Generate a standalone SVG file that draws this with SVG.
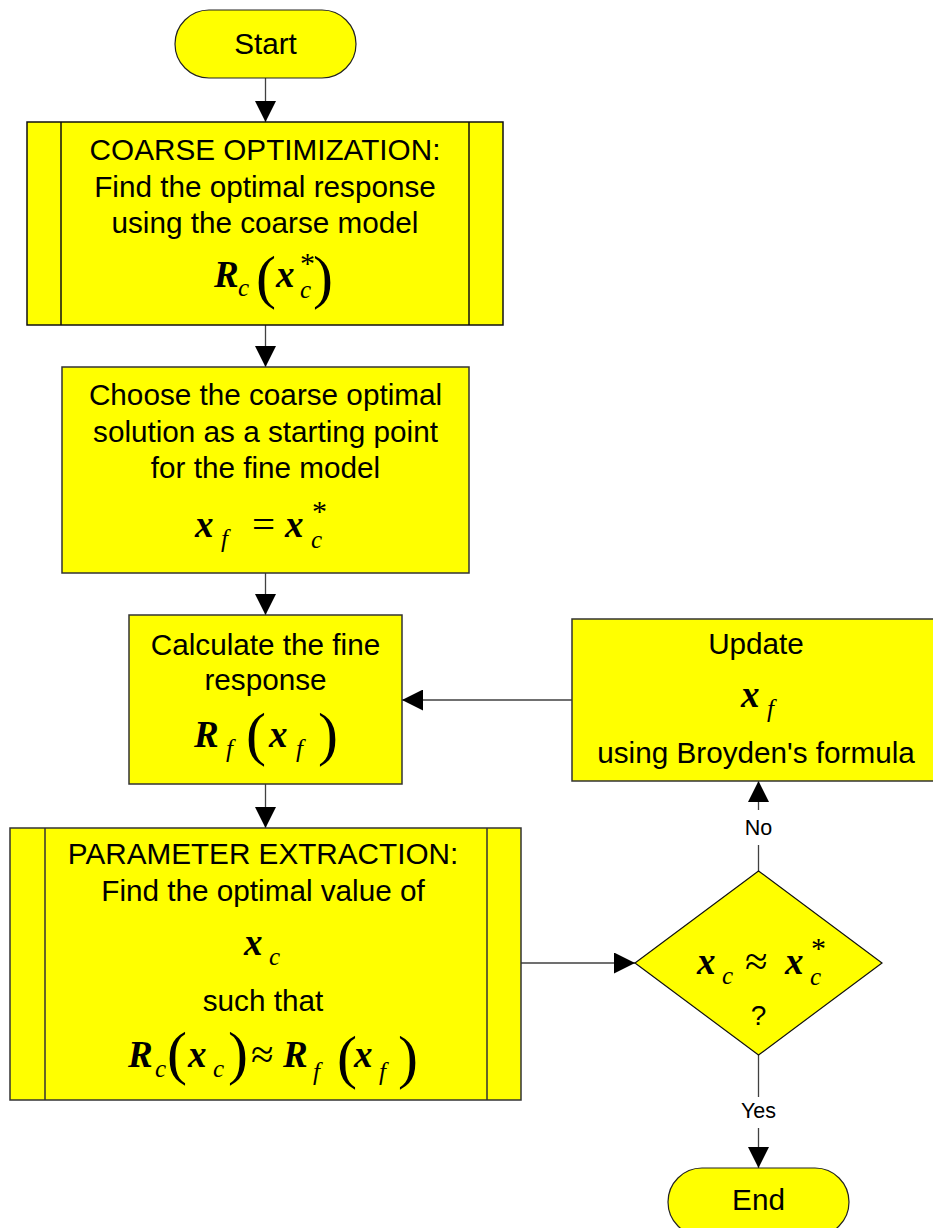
<svg xmlns="http://www.w3.org/2000/svg" width="933" height="1228" viewBox="0 0 933 1228">
<style>
.box{fill:#ffff00;stroke:#333333;stroke-width:1.5}
.term{fill:#ffff00;stroke:#222222;stroke-width:1.2}
.t{font-family:"Liberation Sans",Arial,sans-serif;font-size:29.7px;fill:#000;text-anchor:middle}
.lbl{font-family:"Liberation Sans",Arial,sans-serif;font-size:21.5px;fill:#000;text-anchor:middle}
.v{font-family:"Liberation Serif","Times New Roman",serif;font-size:37px;font-weight:bold;font-style:italic;fill:#000}
.s{font-family:"Liberation Serif","Times New Roman",serif;font-size:25px;font-style:italic;fill:#000}
.p{font-family:"Liberation Serif","Times New Roman",serif;font-size:60px;fill:#000}
.o{font-family:"Liberation Serif","Times New Roman",serif;font-size:41px;fill:#000}
.st{font-family:"Liberation Serif","Times New Roman",serif;font-size:30px;fill:#000}
.c{fill:none;stroke:#404040;stroke-width:1.3}
</style>
<defs>
<marker id="ah" markerUnits="userSpaceOnUse" markerWidth="21" markerHeight="21" viewBox="0 0 20 20" refX="20" refY="10" orient="auto">
<path d="M0,0 L20,10 L0,20 Z" fill="#000"/>
</marker>
</defs>

<g id="connectors">
<line class="c" x1="265.5" y1="78" x2="265.5" y2="122" marker-end="url(#ah)"/>
<line class="c" x1="265.5" y1="325" x2="265.5" y2="367" marker-end="url(#ah)"/>
<line class="c" x1="265.5" y1="573" x2="265.5" y2="615" marker-end="url(#ah)"/>
<line class="c" x1="265.5" y1="784" x2="265.5" y2="828" marker-end="url(#ah)"/>
<line class="c" x1="521" y1="963" x2="635" y2="963" marker-end="url(#ah)"/>
<line class="c" x1="572" y1="700" x2="402" y2="700" marker-end="url(#ah)"/>
<path class="c" d="M758.5,871 V845 M758.5,810 V781" marker-end="url(#ah)"/>
<path class="c" d="M758.5,1055 V1097 M758.5,1128 V1168" marker-end="url(#ah)"/>
<text class="lbl" x="758.5" y="835">No</text>
<text class="lbl" x="758.5" y="1118">Yes</text>
</g>

<g id="start">
<rect class="term" x="175" y="10" width="181" height="68" rx="34" ry="34"/>
<text class="t" x="265.5" y="54">Start</text>
</g>

<g id="coarse-optimization">
<rect class="box" x="27" y="122" width="476" height="203" style="stroke:#111"/>
<line x1="61" y1="122" x2="61" y2="325" stroke="#111" stroke-width="1.5"/>
<line x1="469" y1="122" x2="469" y2="325" stroke="#111" stroke-width="1.5"/>
<text class="t" x="265" y="160">COARSE OPTIMIZATION:</text>
<text class="t" x="265" y="197">Find the optimal response</text>
<text class="t" x="265" y="233">using the coarse model</text>
<text class="v" x="214" y="287">R</text>
<text class="s" x="238" y="296">c</text>
<text class="p" x="256" y="297">(</text>
<text class="v" x="276" y="287">x</text>
<text class="st" x="300" y="273">*</text>
<text class="s" x="300" y="298">c</text>
<text class="p" x="313" y="297">)</text>
</g>

<g id="choose-start">
<rect class="box" x="62" y="367" width="407" height="206"/>
<text class="t" x="265.5" y="405">Choose the coarse optimal</text>
<text class="t" x="265.5" y="442">solution as a starting point</text>
<text class="t" x="265.5" y="478">for the fine model</text>
<text class="v" x="195" y="537">x</text>
<text class="s" x="221" y="547">f</text>
<text class="o" x="252" y="538">=</text>
<text class="v" x="285" y="537">x</text>
<text class="st" x="312" y="521">*</text>
<text class="s" x="311" y="548">c</text>
</g>

<g id="fine-response">
<rect class="box" x="129" y="615" width="273" height="169"/>
<text class="t" x="265.5" y="655">Calculate the fine</text>
<text class="t" x="265.5" y="690">response</text>
<text class="v" x="194" y="747">R</text>
<text class="s" x="226" y="757">f</text>
<text class="p" x="246" y="754">(</text>
<text class="v" x="269" y="747">x</text>
<text class="s" x="296" y="757">f</text>
<text class="p" x="318" y="754">)</text>
</g>

<g id="update">
<rect class="box" x="572" y="619" width="370" height="162"/>
<text class="t" x="756" y="654">Update</text>
<text class="v" x="741" y="707">x</text>
<text class="s" x="767" y="717">f</text>
<text class="t" x="756" y="763">using Broyden's formula</text>
</g>

<g id="parameter-extraction">
<rect class="box" x="10" y="828" width="511" height="272"/>
<line x1="45" y1="828" x2="45" y2="1100" stroke="#333" stroke-width="1.5"/>
<line x1="487" y1="828" x2="487" y2="1100" stroke="#333" stroke-width="1.5"/>
<text class="t" x="263" y="864">PARAMETER EXTRACTION:</text>
<text class="t" x="263" y="901">Find the optimal value of</text>
<text class="v" x="244" y="955">x</text>
<text class="s" x="269" y="965">c</text>
<text class="t" x="263" y="1011">such that</text>
<text class="v" x="128" y="1067">R</text>
<text class="s" x="155" y="1077">c</text>
<text class="p" x="167" y="1073">(</text>
<text class="v" x="188" y="1067">x</text>
<text class="s" x="213" y="1077">c</text>
<text class="p" x="228" y="1073">)</text>
<text class="o" x="251" y="1068">≈</text>
<text class="v" x="283" y="1067">R</text>
<text class="s" x="313" y="1080">f</text>
<text class="p" x="337" y="1077">(</text>
<text class="v" x="354" y="1067">x</text>
<text class="s" x="379" y="1080">f</text>
<text class="p" x="398" y="1077">)</text>
</g>

<g id="decision">
<polygon points="758.5,871 882,963 758.5,1055 635,963" fill="#ffff00" stroke="#111" stroke-width="1.2"/>
<text class="v" x="697" y="974">x</text>
<text class="s" x="722" y="984">c</text>
<text class="o" x="745" y="975">≈</text>
<text class="v" x="785" y="974">x</text>
<text class="st" x="811" y="958">*</text>
<text class="s" x="810" y="985">c</text>
<text class="t" x="758.5" y="1025" style="font-size:28px">?</text>
</g>

<g id="end">
<rect class="term" x="668" y="1168" width="181" height="68" rx="34" ry="34"/>
<text class="t" x="758.5" y="1210">End</text>
</g>
</svg>
